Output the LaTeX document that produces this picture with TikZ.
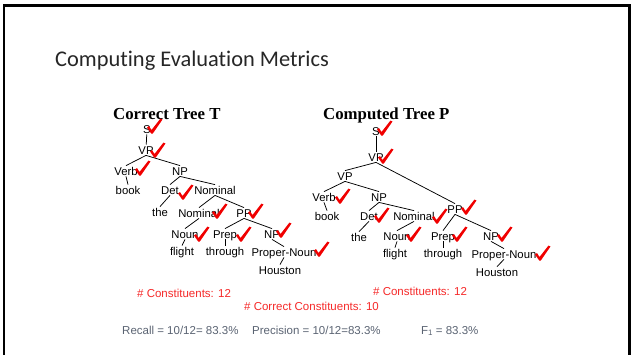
\documentclass[tikz,border=0pt]{standalone}
\usepackage{fontspec}
\setmainfont{Liberation Sans}
\newfontfamily\titlefont[Ligatures=NoCommon]{Carlito}
\newfontfamily\timesfont{Liberation Serif}
\definecolor{chkred}{RGB}{240,0,0}
\definecolor{numred}{RGB}{245,40,40}
\definecolor{metgray}{RGB}{90,99,114}
\begin{document}
\begin{tikzpicture}[x=1pt,y=-1pt,
  lbl/.style={inner sep=1.2pt, font=\fontsize{11.3}{12}\selectfont, text height=8pt, text depth=0pt, anchor=center},
  edge/.style={line width=0.75pt, black},
  hdr/.style={inner sep=0pt, anchor=base west, font=\timesfont\bfseries\fontsize{16.8}{18}\selectfont},
  cnt/.style={inner sep=0pt, anchor=base west, text=numred, font=\fontsize{11.5}{13}\selectfont},
  met/.style={inner sep=0pt, anchor=base west, text=metgray, font=\fontsize{11.5}{13}\selectfont},
  chk/.pic={\fill[chkred] (-5,-5.5) -- (-3,-7) -- (-0.5,-3) -- (8.5,-14.5) -- (10.5,-13.5) -- (0.8,0.5) -- (-0.8,0.5) -- cycle;}
]
\useasboundingbox (0,0) rectangle (631,354);
% slide frame
\draw[line width=2.3pt] (4.2,360) -- (4.2,5.5) -- (629.5,5.5) -- (629.5,360);

% title
\node[inner sep=0pt, anchor=base west, font=\titlefont\fontsize{22.4}{26}\selectfont, text=black!85] (title) at (55,66) {Computing Evaluation Metrics};

\node[hdr] (hT) at (113,119) {Correct Tree T};
\node[hdr] (hP) at (323,119) {Computed Tree P};

% ---------- Correct tree T ----------
\node[lbl] (tS) at (147,129) {S};
\node[lbl] (tVP) at (146,150) {VP};
\node[lbl] (tVerb) at (126,171) {Verb};
\node[lbl] (tbook) at (128,190) {book};
\node[lbl] (tNP) at (180,171) {NP};
\node[lbl] (tDet) at (170,190) {Det};
\node[lbl] (tNom) at (215,190) {Nominal};
\node[lbl] (tthe) at (160,212) {the};
\node[lbl] (tNom2) at (199,213) {Nominal};
\node[lbl] (tPP) at (244,213) {PP};
\node[lbl] (tNoun) at (185,234) {Noun};
\node[lbl] (tflight) at (182,251) {flight};
\node[lbl] (tPrep) at (225,234) {Prep};
\node[lbl] (tthrough) at (225,251) {through};
\node[lbl] (tNP2) at (272,234) {NP};
\node[lbl] (tPN) at (284,252) {Proper-Noun};
\node[lbl] (tHou) at (280,270) {Houston};

\draw[edge] (tS) -- (tVP);
\draw[edge] (tVP.south) -- (tVerb.north);
\draw[edge] (tVP.south) -- (tNP.north);
\draw[edge] (tVerb.south) -- (tbook.north);
\draw[edge] (tNP.south) -- (tDet.north);
\draw[edge] (tNP.south) -- (tNom.north);
\draw[edge] (tDet.south) -- (tthe.north);
\draw[edge] (tNom.south) -- (tNom2.north);
\draw[edge] (tNom.south) -- (tPP.north);
\draw[edge] (tNom2.south) -- (tNoun.north);
\draw[edge] (tNoun.south) -- (tflight.north);
\draw[edge] (tPP.south) -- (tPrep.north);
\draw[edge] (tPP.south) -- (tNP2.north);
\draw[edge] (tPrep.south) -- (tthrough.north);
\draw[edge] (tNP2.south) -- (tPN.north);
\draw[edge] (tPN.south) -- (tHou.north);

\pic at (152,133) {chk};
\pic at (155,157) {chk};
\pic at (140,175) {chk};
\pic at (183,199) {chk};
\pic at (217,218) {chk};
\pic at (253,218) {chk};
\pic at (199,241) {chk};
\pic at (241,241) {chk};
\pic at (281,237) {chk};
\pic at (319,256) {chk};

% ---------- Computed tree P ----------
\node[lbl] (pS) at (376,131) {S};
\node[lbl] (pVP) at (376,157) {VP};
\node[lbl] (pVP2) at (345,176) {VP};
\node[lbl] (pVerb) at (324,197) {Verb};
\node[lbl] (pbook) at (327,216) {book};
\node[lbl] (pNP) at (379,197) {NP};
\node[lbl] (pDet) at (369,216) {Det};
\node[lbl] (pNom) at (414,216) {Nominal};
\node[lbl] (pPP) at (455,209) {PP};
\node[lbl] (pthe) at (359,237) {the};
\node[lbl] (pNoun) at (397,236) {Noun};
\node[lbl] (pflight) at (395,253) {flight};
\node[lbl] (pPrep) at (443,236) {Prep};
\node[lbl] (pthrough) at (443,253) {through};
\node[lbl] (pNP2) at (491,236) {NP};
\node[lbl] (pPN) at (504,254) {Proper-Noun};
\node[lbl] (pHou) at (497,272) {Houston};

\draw[edge] (pS) -- (pVP);
\draw[edge] (pVP.south) -- (pVP2.north);
\draw[edge] (pVP.south) -- (pPP.north);
\draw[edge] (pVP2.south) -- (pVerb.north);
\draw[edge] (pVP2.south) -- (pNP.north);
\draw[edge] (pVerb.south) -- (pbook.north);
\draw[edge] (pNP.south) -- (pDet.north);
\draw[edge] (pNP.south) -- (pNom.north);
\draw[edge] (pDet.south) -- (pthe.north);
\draw[edge] (pNom.south) -- (pNoun.north);
\draw[edge] (pNoun.south) -- (pflight.north);
\draw[edge] (pPP.south) -- (pPrep.north);
\draw[edge] (pPP.south) -- (pNP2.north);
\draw[edge] (pPrep.south) -- (pthrough.north);
\draw[edge] (pNP2.south) -- (pPN.north);
\draw[edge] (pPN.south) -- (pHou.north);

\pic at (382,135) {chk};
\pic at (383,163) {chk};
\pic at (340,203) {chk};
\pic at (379,222) {chk};
\pic at (437,223) {chk};
\pic at (466,214) {chk};
\pic at (411,241) {chk};
\pic at (457,241) {chk};
\pic at (502,241) {chk};
\pic at (540,260) {chk};

% ---------- counts and metrics ----------
\node[cnt] (c1) at (137,297) {\# Constituents: 12};
\node[cnt] (c2) at (373,295) {\# Constituents: 12};
\node[cnt] (c3) at (244,310) {\# Correct Constituents: 10};

\node[met] (rec) at (122,334) {Recall = 10/12= 83.3\%};
\node[met] (prec) at (252,334) {Precision = 10/12=83.3\%};
\node[met] (f1) at (421,334) {F{\fontsize{8}{9}\selectfont\raisebox{-1.5pt}{1}} = 83.3\%};
\end{tikzpicture}
\end{document}
